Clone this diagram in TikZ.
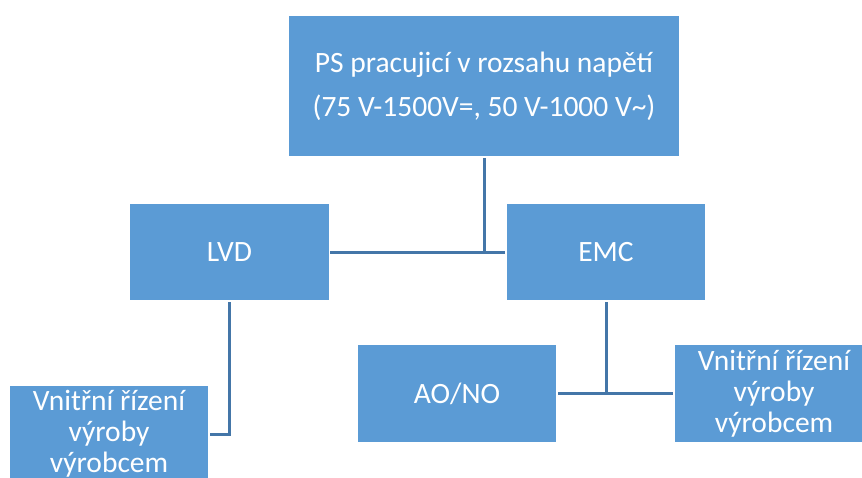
\documentclass[tikz,border=0pt]{standalone}
\usepackage{fontspec}
\setmainfont{Carlito}
\usepackage{tikz}
\usetikzlibrary{positioning, calc, backgrounds}
\definecolor{boxblue}{RGB}{91,155,213}
\definecolor{lineblue}{RGB}{68,118,168}

\begin{document}
\begin{tikzpicture}[
    x=1pt, y=-1pt,
    box/.style={rectangle, fill=boxblue, draw=white, line width=1.2pt,
                minimum width=200pt, minimum height=98pt, align=center,
                inner sep=2pt, text=white, font=\fontsize{29.5}{31}\selectfont},
    link/.style={line width=3pt, lineblue}
]
\useasboundingbox (0,0) rectangle (862,477);
\clip (0,0) rectangle (862,477);
% uzly
\node[box, minimum width=391pt, minimum height=142pt,
      font=\fontsize{29.5}{44}\selectfont] (ps) at (484,86)
    {PS pracujicí v rozsahu napětí\\(75 V-1500V=, 50 V-1000 V\textasciitilde)};
\node[box] (lvd) at (229.5,252) {LVD};
\node[box] (emc) at (606,252) {EMC};
\node[box, minimum height=99pt] (aono) at (457,393.5) {AO/NO};
\node[box, minimum height=99pt] (vnr) at (774,393.5) {Vnitřní řízení\\výroby\\výrobcem};
\node[box] (vnl) at (109,434) {Vnitřní řízení\\výroby\\výrobcem};
% spojnice
\begin{scope}[on background layer]
\draw[link] (ps.south) -- (ps.south |- lvd.east);
\draw[link] (lvd.east) -- (emc.west);
\draw[link] (lvd.south) |- (vnl.east);
\draw[link] (emc.south) -- (emc.south |- aono.east);
\draw[link] (aono.east) -- (vnr.west);
\end{scope}
\end{tikzpicture}
\end{document}
